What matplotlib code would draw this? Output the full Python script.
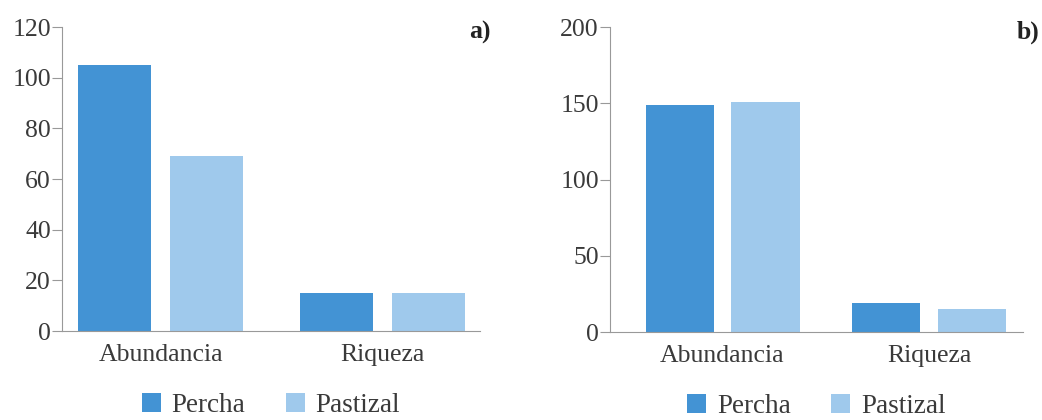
import numpy as np
import matplotlib
matplotlib.use("Agg")
import matplotlib.pyplot as plt

plt.rcParams['font.family'] = ['Liberation Serif', 'DejaVu Serif']

categorias = ["Abundancia", "Riqueza"]
series = ["Percha", "Pastizal"]

# a) valores
percha_a = [105, 15]
pastizal_a = [69, 15]
# b) valores
percha_b = [149, 19]
pastizal_b = [151, 15]

color_percha = "#4393d4"
color_pastizal = "#9fc9ec"

fig = plt.figure(figsize=(10.42, 4.2), dpi=100)

ax1 = fig.add_axes([0.0595, 0.2119, 0.4012, 0.7238])
ax2 = fig.add_axes([0.5854, 0.2095, 0.3964, 0.7262])


def panel(ax, percha, pastizal, yticks, ymax, xlim, letra, xletra):
    x = np.arange(len(categorias))
    ancho = 0.33
    ax.bar(x - 0.208, percha, width=ancho, color=color_percha, label=series[0])
    ax.bar(x + 0.208, pastizal, width=ancho, color=color_pastizal, label=series[1])
    ax.set_xlim(*xlim)
    ax.set_ylim(0, ymax)
    ax.set_yticks(yticks)
    ax.set_xticks(x)
    ax.set_xticklabels(categorias, fontsize=18.5, color="#3a3a3a")
    ax.tick_params(axis="x", length=0, pad=9)
    ax.tick_params(axis="y", length=7, width=0.8, color="#999999",
                   labelsize=18.5, labelcolor="#3a3a3a", pad=1)
    for s in ["top", "right"]:
        ax.spines[s].set_visible(False)
    for s in ["left", "bottom"]:
        ax.spines[s].set_color("#999999")
        ax.spines[s].set_linewidth(0.8)
    ax.text(xletra, 1.02, letra, transform=ax.transAxes, ha="right", va="top",
            fontsize=18.5, fontweight="bold", color="#222222")
    ax.legend(loc="center", bbox_to_anchor=(0.5, -0.245), ncol=2, frameon=False,
              fontsize=19.5, handlelength=0.7, handleheight=0.7,
              handletextpad=0.4, columnspacing=1.5, labelcolor="#3a3a3a")


panel(ax1, percha_a, pastizal_a, [0, 20, 40, 60, 80, 100, 120], 120,
      (-0.445, 1.44), "a)", 1.025)
panel(ax2, percha_b, pastizal_b, [0, 50, 100, 150, 200], 200,
      (-0.545, 1.455), "b)", 1.04)

fig.savefig("out.png", dpi=100)
